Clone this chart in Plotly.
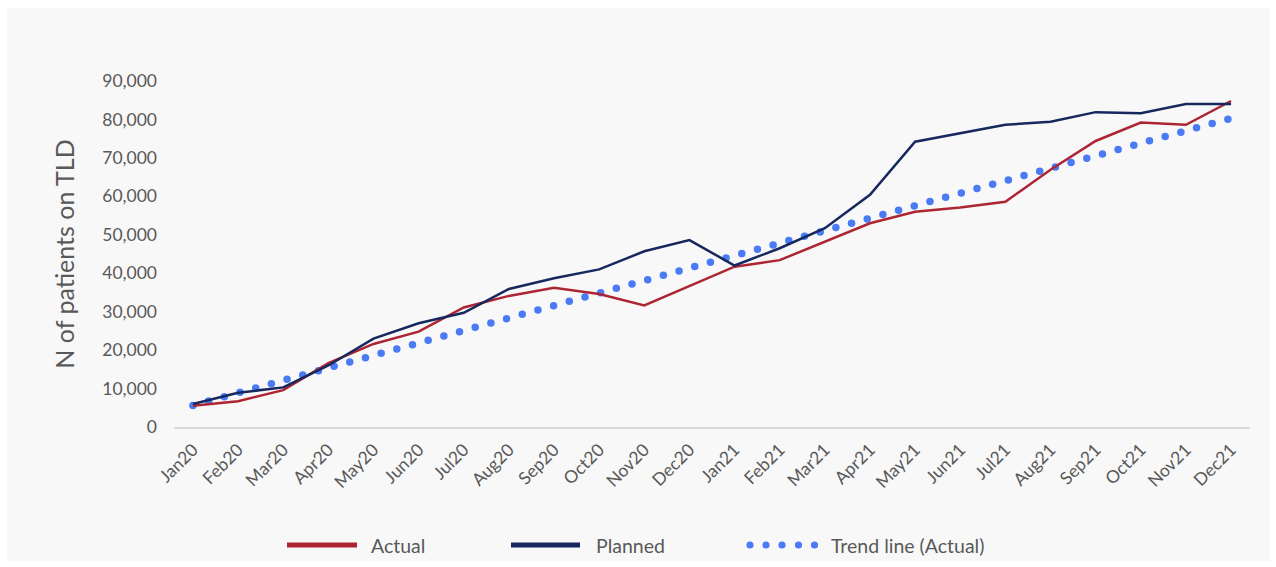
import numpy as np
import plotly.graph_objects as go

# Monthly series, Jan 2020 - Dec 2021
months = ["Jan20", "Feb20", "Mar20", "Apr20", "May20", "Jun20", "Jul20", "Aug20",
          "Sep20", "Oct20", "Nov20", "Dec20", "Jan21", "Feb21", "Mar21", "Apr21",
          "May21", "Jun21", "Jul21", "Aug21", "Sep21", "Oct21", "Nov21", "Dec21"]
actual = [5500, 6700, 9600, 16600, 21600, 24800, 31100, 34100, 36200, 34600, 31600, 36700,
          41700, 43400, 48200, 53000, 56000, 57100, 58600, 66900, 74400, 79200, 78600, 84800]
planned = [6000, 8900, 10300, 16000, 23000, 27000, 29700, 35900, 38700, 41000, 45700, 48600,
           42000, 46500, 51700, 60400, 74200, 76400, 78600, 79400, 81900, 81600, 84000, 84000]
y_ticks = [0, 10000, 20000, 30000, 40000, 50000, 60000, 70000, 80000, 90000]
y_ticktext = ["0", "10,000", "20,000", "30,000", "40,000", "50,000", "60,000",
              "70,000", "80,000", "90,000"]

RED = "#ad2532"
NAVY = "#17285e"
BLUE = "#4a7bf5"
TXT = "#595959"
FONT = "Lato"

W, H = 1276, 567
L, R, T, B = 174, 26, 81, 140
PW, PH = W - L - R, H - T - B

def px(xp):
    return (xp - L) / PW

def py(yp):
    return (H - B - yp) / PH

idx = np.arange(len(months))

# least-squares linear trend of the actual series
slope, intercept = np.polyfit(idx, actual, 1)
trend_x = np.linspace(0, len(months) - 1.07, 67)
trend_y = slope * trend_x + intercept

fig = go.Figure()
fig.add_trace(go.Scatter(x=trend_x, y=trend_y, mode="markers",
                         marker=dict(color=BLUE, size=7.5, line=dict(width=0)),
                         name="Trend line (Actual)", showlegend=False, hoverinfo="skip"))
fig.add_trace(go.Scatter(x=idx, y=actual, mode="lines", line=dict(color=RED, width=2.5),
                         name="Actual", showlegend=False))
fig.add_trace(go.Scatter(x=idx, y=planned, mode="lines", line=dict(color=NAVY, width=2.5),
                         name="Planned", showlegend=False))

shapes = [
    # panel background
    dict(type="rect", xref="paper", yref="paper", layer="below",
         x0=px(7), x1=px(1270), y0=py(561), y1=py(8),
         fillcolor="#f8f8f8", line=dict(width=0)),
    # legend swatches
    dict(type="line", xref="paper", yref="paper", x0=px(287), x1=px(357), y0=py(545), y1=py(545),
         line=dict(color=RED, width=5)),
    dict(type="line", xref="paper", yref="paper", x0=px(511), x1=px(580), y0=py(545), y1=py(545),
         line=dict(color=NAVY, width=5)),
]
for cx in [750, 766, 782, 798.5, 814.5]:
    shapes.append(dict(type="circle", xref="paper", yref="paper",
                       x0=px(cx - 3.6), x1=px(cx + 3.6), y0=py(545 + 3.6), y1=py(545 - 3.6),
                       fillcolor=BLUE, line=dict(width=0)))

annotations = []
for label, xp in [("Actual", 369), ("Planned", 594), ("Trend line (Actual)", 829)]:
    annotations.append(dict(text=label, xref="paper", yref="paper", x=px(xp), y=py(545),
                            xanchor="left", yanchor="middle", showarrow=False,
                            font=dict(family=FONT, size=19.5, color=TXT)))

fig.update_layout(
    width=W, height=H,
    margin=dict(l=L, r=R, t=T, b=B),
    paper_bgcolor="white",
    plot_bgcolor="rgba(0,0,0,0)",
    font=dict(family=FONT, color=TXT),
    showlegend=False,
    shapes=shapes,
    annotations=annotations,
    xaxis=dict(
        range=[-0.42, len(months) - 1 + 0.42],
        tickvals=idx, ticktext=months, tickangle=-45,
        tickfont=dict(family=FONT, size=17.5, color=TXT),
        ticklabelstandoff=4,
        showgrid=False, zeroline=False,
        showline=True, linecolor="#d9d9d9", linewidth=1.5,
        ticks="",
    ),
    yaxis=dict(
        range=[0, 90000],
        tickvals=y_ticks, ticktext=y_ticktext,
        tickfont=dict(family=FONT, size=17.5, color=TXT),
        ticklabelstandoff=16,
        showgrid=False, zeroline=False, showline=False, ticks="",
        title=dict(text="N of patients on TLD", standoff=20,
                   font=dict(family=FONT, size=25, color=TXT)),
    ),
)

fig.write_html("out.html")
